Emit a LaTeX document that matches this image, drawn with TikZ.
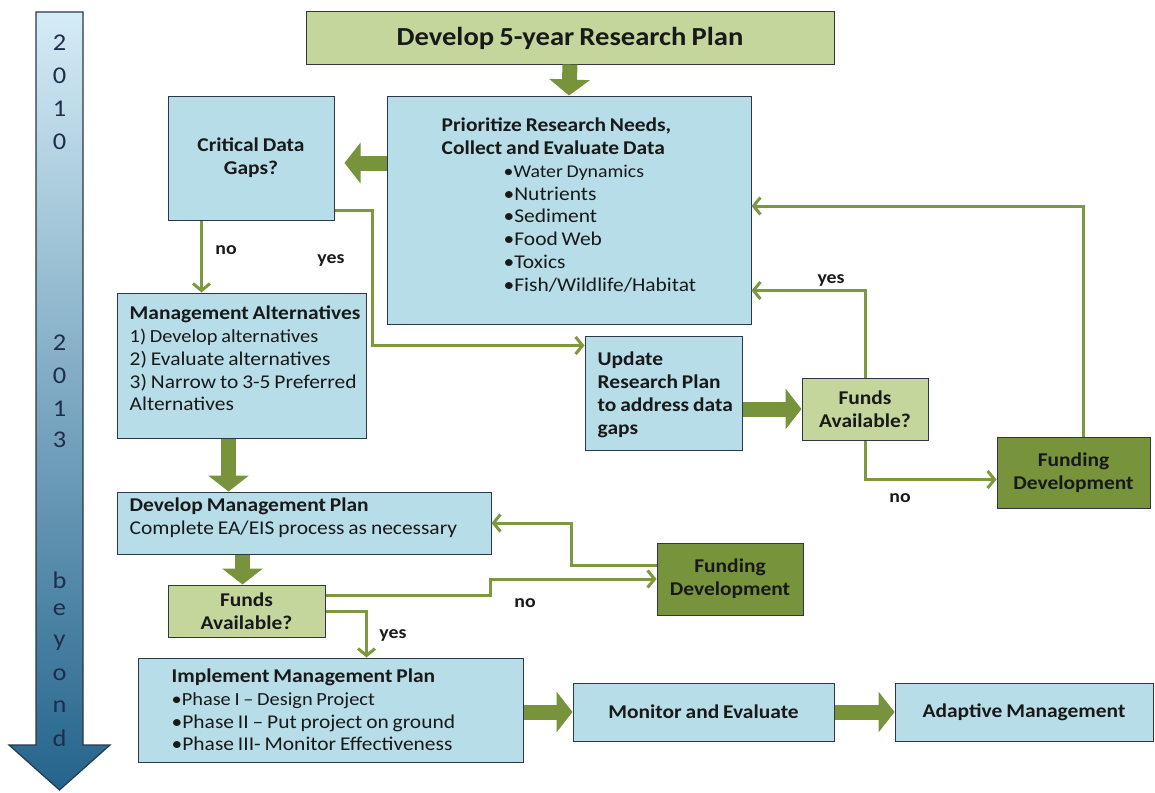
\documentclass[tikz,border=0pt]{standalone}
\usepackage{fontspec}
\setmainfont{Carlito}[FakeStretch=1.1, WordSpace=0.8]
\usetikzlibrary{arrows.meta}
\definecolor{lblue}{RGB}{183,222,232}
\definecolor{lgreen}{RGB}{196,214,155}
\definecolor{dgreen}{RGB}{119,147,60}
\definecolor{lineg}{RGB}{125,152,62}
\definecolor{bord}{RGB}{45,55,70}
\definecolor{txt}{RGB}{25,25,25}
\definecolor{arrtop}{RGB}{212,236,246}
\definecolor{arrmid}{RGB}{150,202,224}
\definecolor{arrbot}{RGB}{36,100,140}
\definecolor{arrtxt}{RGB}{30,45,75}
\newcommand{\smalltxt}{\fontsize{18.5}{22.8}\selectfont}
\newcommand{\bultxt}{\fontsize{18}{22.8}\selectfont}
\begin{document}
\begin{tikzpicture}[x=1pt,y=-1pt,
  box/.style={draw=bord, line width=1pt, fill=lblue, inner sep=0pt, text=txt,
    font=\fontsize{19.5}{22.8}\selectfont, align=center},
  bbox/.style={box, font=\bfseries\fontsize{19.5}{23}\selectfont},
  gbox/.style={bbox, fill=lgreen},
  dbox/.style={bbox, fill=dgreen},
  ltext/.style={anchor=west, inner sep=0pt, text=txt, align=left, font=\fontsize{19.5}{22.8}\selectfont},
  conn/.style={draw=lineg, line width=3pt, -{Straight Barb[length=7pt,width=17pt]}},
  blk/.style={draw=dgreen, line width=15pt, -{Triangle[length=16pt,width=40pt]}},
  lbl/.style={font=\bfseries\fontsize{18}{20}\selectfont, text=txt},
  yr/.style={font=\fontsize{24}{24}\selectfont, text=arrtxt}
]
\useasboundingbox (0,0) rectangle (1155,792);
\fill[white] (0,0) rectangle (1155,792);

% timeline arrow
\shade[top color=arrtop, middle color=arrmid, bottom color=arrbot]
  (36,12) -- (83,12) -- (83,745) -- (110,745) -- (59.5,790) -- (9,745) -- (36,745) -- cycle;
\draw[bord, line width=1.2pt, line join=miter]
  (36,12) -- (83,12) -- (83,745) -- (110,745) -- (59.5,790) -- (9,745) -- (36,745) -- cycle;
\node[yr] (a1) at (59.5,43) {2};
\node[yr] (a2) at (59.5,76) {0};
\node[yr] (a3) at (59.5,109) {1};
\node[yr] (a4) at (59.5,142) {0};
\node[yr] (b1) at (59.5,343) {2};
\node[yr] (b2) at (59.5,376) {0};
\node[yr] (b3) at (59.5,409) {1};
\node[yr] (b4) at (59.5,440) {3};
\node[yr] (c1) at (59.5,580) {b};
\node[yr] (c2) at (59.5,610) {e};
\node[yr] (c3) at (59.5,643) {y};
\node[yr] (c4) at (59.5,675) {o};
\node[yr] (c5) at (59.5,707) {n};
\node[yr] (c6) at (59.5,738) {d};

% boxes
\node[gbox, minimum width=528pt, minimum height=52pt, font=\bfseries\fontsize{26}{30}\selectfont] (top) at (570,38) {Develop 5-year Research Plan};

\node[box, minimum width=364pt, minimum height=228pt] (pri) at (569,210) {};
\node[ltext] (pri-t) at ([xshift=55pt,yshift=5pt]pri.west)
  {\textbf{Prioritize Research Needs,}\\
   \textbf{Collect and Evaluate Data}\\
   \bultxt\hspace*{62pt}•Water Dynamics\\\hspace*{62pt}•Nutrients\\\hspace*{62pt}•Sediment\\
   \hspace*{62pt}•Food Web\\\hspace*{62pt}•Toxics\\\hspace*{62pt}•Fish/Wildlife/Habitat};

\node[bbox, minimum width=166pt, minimum height=124pt] (crit) at (251,158) {Critical Data\\Gaps?};

\node[box, minimum width=249pt, minimum height=145pt] (ma) at (241.5,365.5) {};
\node[ltext] (ma-t) at ([xshift=13pt,yshift=7pt]ma.west)
  {\textbf{Management Alternatives}\\\smalltxt 1) Develop alternatives\\2) Evaluate alternatives\\3) Narrow to 3-5 Preferred\\Alternatives};

\node[box, minimum width=157pt, minimum height=114pt] (upd) at (663.5,393) {};
\node[ltext, font=\bfseries\fontsize{19.5}{23}\selectfont] (upd-t) at ([xshift=13pt,yshift=-1.5pt]upd.west)
  {Update\\Research Plan\\to address data\\gaps};

\node[gbox, minimum width=126pt, minimum height=62pt] (fu) at (865,409) {Funds\\Available?};
\node[dbox, minimum width=153pt, minimum height=71pt] (fdr) at (1073.5,472.5) {Funding\\Development};

\node[box, minimum width=374pt, minimum height=62pt] (dm) at (304,523) {};
\node[ltext] (dm-t) at ([xshift=13pt,yshift=5pt]dm.west)
  {\textbf{Develop Management Plan}\\Complete EA/EIS process as necessary};

\node[gbox, minimum width=157pt, minimum height=52pt] (fb) at (246.5,611) {Funds\\Available?};
\node[dbox, minimum width=146pt, minimum height=72pt] (fdm) at (730,579) {Funding\\Development};

\node[box, minimum width=385pt, minimum height=104pt] (impl) at (330.5,710) {};
\node[ltext] (impl-t) at ([xshift=34pt]impl.west)
  {\textbf{Implement Management Plan}\\\smalltxt •Phase I – Design Project\\•Phase II – Put project on ground\\•Phase III- Monitor Effectiveness};

\node[bbox, minimum width=261pt, minimum height=58pt] (mon) at (703.5,712) {Monitor and Evaluate};
\node[bbox, minimum width=258pt, minimum height=58pt] (ad) at (1024,712) {Adaptive Management};

% thick block arrows
\draw[blk] (top.south) -- (pri.north);
\draw[blk, shorten >=10pt] ([yshift=-5pt]crit.east -| pri.west) -- ([yshift=-5pt]crit.east);
\draw[blk] ([xshift=-13pt]ma.south) -- ([xshift=-13pt]ma.south |- dm.north);
\draw[blk] ([xshift=-4pt]dm.south -| fb.north) -- ([xshift=-4pt]fb.north);
\draw[blk] (upd.east |- fu.west) -- (fu.west);
\draw[blk] (impl.east |- mon.west) -- (mon.west);
\draw[blk] (mon.east) -- (ad.west);

% connectors
\draw[conn] ([xshift=34pt]crit.south west) -- ([xshift=34pt]crit.south west |- ma.north);
\draw[conn] ([yshift=10pt]crit.south east) -- ++(38,0) |- ([yshift=-10pt]upd.north west);
\draw[conn] (fu.north) |- ([yshift=34pt]pri.south east);
\draw[conn] (fu.south) |- ([yshift=-7pt]fdr.west);
\draw[conn] ([xshift=10pt]fdr.north) |- ([yshift=4pt]pri.east);
\draw[conn] ([yshift=16pt]fb.east) -- ++(165,0) |- (fdm.west);
\draw[conn] ([yshift=14pt]fdm.west) -- ++(-85,0) |- (dm.east);
\draw[conn] (fb.east) -| ([xshift=36pt]impl.north);

% labels
\node[lbl] (lno1) at (226,250) {no};
\node[lbl] (lyes1) at (331,260) {yes};
\node[lbl] (lyes2) at (831,280) {yes};
\node[lbl] (lno2) at (900,498) {no};
\node[lbl] (lno3) at (525,603) {no};
\node[lbl] (lyes3) at (393,635) {yes};
\end{tikzpicture}
\end{document}
